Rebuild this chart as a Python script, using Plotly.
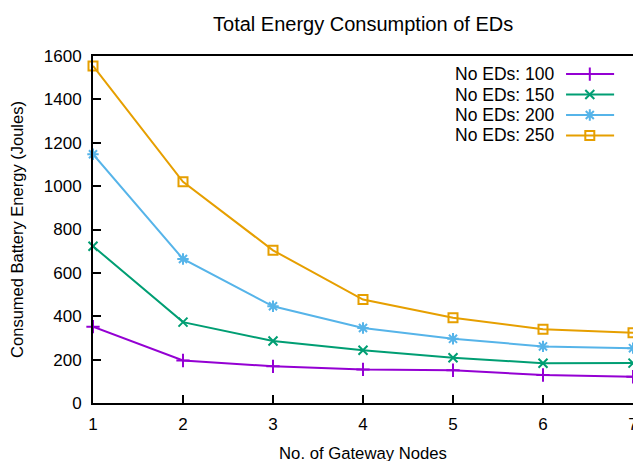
import plotly.graph_objects as go

gateways = [1, 2, 3, 4, 5, 6, 7]
ed100 = [352, 196, 169, 155, 151, 129, 121]
ed150 = [723, 373, 286, 243, 209, 183, 184]
ed200 = [1147, 664, 446, 346, 296, 261, 253]
ed250 = [1554, 1020, 704, 477, 393, 340, 324]
names = ["No EDs: 100", "No EDs: 150", "No EDs: 200", "No EDs: 250"]
colors = ["#9400d3", "#009e73", "#56b4e9", "#e69f00"]
symbols = ["cross-thin-open", "x-thin-open", "asterisk-open", "square-open"]
sizes = [9.5, 9, 9.5, 9]

FONT = "Liberation Sans, Arial, sans-serif"
fig = go.Figure()
series = [ed100, ed150, ed200, ed250]
for vals, nm, c, s, sz in zip(series, names, colors, symbols, sizes):
    fig.add_trace(go.Scatter(
        x=gateways, y=vals, name=nm, mode="lines+markers",
        line=dict(color=c, width=2),
        marker=dict(symbol=s, size=sz, color=c, line=dict(color=c, width=2)),
        showlegend=False, cliponaxis=False))

# custom gnuplot-style key (text left of sample)
rows_y = [0.948, 0.889, 0.830, 0.771]
for nm, c, s, sz, yy in zip(names, colors, symbols, sizes, rows_y):
    fig.add_annotation(x=0.858, y=yy, xref="paper", yref="paper", text=nm,
                       showarrow=False, xanchor="right", yanchor="middle",
                       font=dict(family=FONT, size=17.5, color="#000000"))
    fig.add_trace(go.Scatter(
        x=[0.876, 0.965], y=[yy, yy], xaxis="x2", yaxis="y2", mode="lines",
        line=dict(color=c, width=2), showlegend=False, hoverinfo="skip"))
    fig.add_trace(go.Scatter(
        x=[0.920], y=[yy], xaxis="x2", yaxis="y2", mode="markers",
        marker=dict(symbol=s, size=sz, color=c, line=dict(color=c, width=2)),
        showlegend=False, hoverinfo="skip"))

axis_common = dict(showgrid=False, zeroline=False, showline=True, linecolor="#000000",
                   linewidth=2, mirror=True, ticks="inside", ticklen=8, tickwidth=2,
                   automargin=False,
                   tickcolor="#000000", tickfont=dict(family=FONT, size=17, color="#000000"))
fig.update_layout(
    width=641, height=461,
    margin=dict(l=85, r=16, t=48, b=66),
    paper_bgcolor="white", plot_bgcolor="white",
    title=dict(text="Total Energy Consumption of EDs", x=0.554, xanchor="center",
               y=0.965, yanchor="middle",
               font=dict(family=FONT, size=20, color="#000000")),
    xaxis=dict(range=[1, 7], tickvals=gateways, ticklabelstandoff=5,
               title=dict(text="No. of Gateway Nodes", standoff=14,
                          font=dict(family=FONT, size=16.7, color="#000000")),
               **axis_common),
    yaxis=dict(range=[0, 1600], tickvals=list(range(0, 1601, 200)), ticklabelstandoff=6,
               title=dict(text="Consumed Battery Energy (Joules)", standoff=17,
                          font=dict(family=FONT, size=16.5, color="#000000")),
               **axis_common),
    xaxis2=dict(overlaying="x", range=[0, 1], visible=False, fixedrange=True),
    yaxis2=dict(overlaying="y", range=[0, 1], visible=False, fixedrange=True),
    showlegend=False,
)
fig.write_html("out.html")
